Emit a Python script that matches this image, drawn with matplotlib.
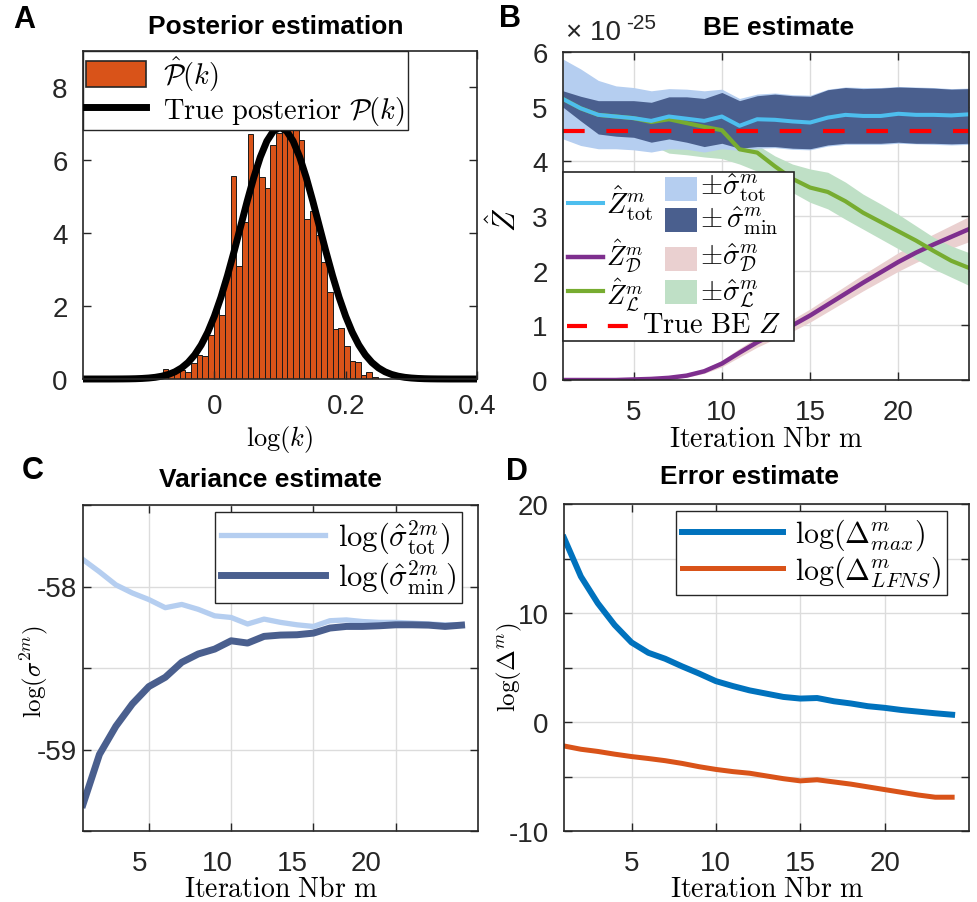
import numpy as np
import matplotlib
matplotlib.use("Agg")
import matplotlib.pyplot as plt
from matplotlib.lines import Line2D
from matplotlib.patches import Patch, Rectangle
from matplotlib.ticker import FuncFormatter

W, H = 977, 903

# ---- A: posterior histogram + true posterior ----
bin_start = -0.0786
bin_width = 0.00862
hist_heights = [0.28, 0.12, 0.18, 0.25, 0.18, 0.45, 0.67, 0.62, 1.2, 1.9,
                1.75, 2.9, 5.58, 3.1, 4.3, 6.72, 5.82, 5.55, 5.23, 6.42,
                6.74, 6.88, 7.02, 7.1, 6.56, 4.4, 4.6, 3.95, 3.2, 2.4,
                1.36, 1.4, 0.9, 0.5, 0.46, 0.1, 0.18, 0.05]
curve_x = [-0.20, -0.19, -0.18, -0.17, -0.16, -0.15, -0.14, -0.13, -0.12, -0.11,
           -0.10, -0.09, -0.08, -0.07, -0.06, -0.05, -0.04, -0.03, -0.02, -0.01,
           0.00, 0.01, 0.02, 0.03, 0.04, 0.05, 0.06, 0.07, 0.08, 0.09,
           0.10, 0.11, 0.12, 0.13, 0.14, 0.15, 0.16, 0.17, 0.18, 0.19,
           0.20, 0.21, 0.22, 0.23, 0.24, 0.25, 0.26, 0.27, 0.28, 0.29,
           0.30, 0.31, 0.32, 0.33, 0.34, 0.35, 0.36, 0.37, 0.38, 0.39, 0.40]
curve_y = [0.000, 0.000, 0.000, 0.000, 0.000, 0.001, 0.002, 0.004, 0.008, 0.015,
           0.027, 0.046, 0.077, 0.125, 0.197, 0.303, 0.453, 0.660, 0.934, 1.285,
           1.721, 2.240, 2.837, 3.493, 4.185, 4.876, 5.525, 6.089, 6.527, 6.805,
           6.900, 6.805, 6.527, 6.089, 5.525, 4.876, 4.185, 3.493, 2.837, 2.240,
           1.721, 1.285, 0.934, 0.660, 0.453, 0.303, 0.197, 0.125, 0.077, 0.046,
           0.027, 0.015, 0.008, 0.004, 0.002, 0.001, 0.000, 0.000, 0.000, 0.000, 0.000]

# ---- B: BE estimate (units of 1e-25) ----
iters = list(range(1, 25))
be_scale = 1e-25
true_z = 4.56
z_tot = [5.14, 4.97, 4.85, 4.82, 4.79, 4.74, 4.82, 4.78, 4.74, 4.82, 4.65, 4.77,
         4.76, 4.73, 4.71, 4.80, 4.85, 4.83, 4.83, 4.87, 4.85, 4.85, 4.84, 4.86]
tot_hi = [5.87, 5.69, 5.48, 5.38, 5.35, 5.29, 5.33, 5.32, 5.29, 5.32, 5.15, 5.23,
          5.25, 5.22, 5.21, 5.32, 5.36, 5.35, 5.35, 5.37, 5.36, 5.35, 5.33, 5.34]
tot_lo = [4.41, 4.29, 4.23, 4.23, 4.21, 4.17, 4.23, 4.22, 4.17, 4.23, 4.20, 4.24,
          4.25, 4.22, 4.21, 4.28, 4.31, 4.31, 4.31, 4.33, 4.32, 4.31, 4.30, 4.31]
min_hi = [5.29, 5.19, 5.11, 5.11, 5.11, 5.08, 5.18, 5.18, 5.15, 5.26, 5.11, 5.20,
          5.23, 5.20, 5.19, 5.31, 5.35, 5.33, 5.34, 5.36, 5.35, 5.34, 5.32, 5.33]
min_lo = [4.99, 4.74, 4.50, 4.46, 4.44, 4.35, 4.41, 4.35, 4.27, 4.33, 4.24, 4.27,
          4.27, 4.24, 4.23, 4.30, 4.33, 4.33, 4.33, 4.35, 4.33, 4.33, 4.32, 4.33]
z_D = [0.0, 0.0, 0.0, 0.0, 0.01, 0.02, 0.04, 0.08, 0.16, 0.30, 0.50, 0.69,
       0.85, 1.00, 1.18, 1.38, 1.58, 1.78, 1.97, 2.16, 2.33, 2.48, 2.62, 2.76]
sig_D = [0.0, 0.0, 0.0, 0.0, 0.01, 0.01, 0.02, 0.03, 0.04, 0.06, 0.08, 0.09,
         0.10, 0.11, 0.12, 0.13, 0.14, 0.15, 0.16, 0.17, 0.18, 0.19, 0.21, 0.23]
z_L = [5.14, 4.97, 4.85, 4.82, 4.79, 4.72, 4.77, 4.70, 4.63, 4.57, 4.22, 4.16,
       3.91, 3.68, 3.52, 3.44, 3.27, 3.06, 2.89, 2.72, 2.55, 2.36, 2.18, 2.05]
L_hi = [5.40, 5.25, 5.12, 5.08, 5.05, 4.98, 5.02, 4.95, 4.88, 4.80, 4.45, 4.30,
        4.10, 3.95, 3.86, 3.80, 3.62, 3.40, 3.22, 3.03, 2.82, 2.61, 2.45, 2.33]
L_lo = [4.75, 4.60, 4.48, 4.42, 4.35, 4.30, 4.15, 4.12, 4.08, 4.05, 3.95, 3.82,
        3.59, 3.43, 3.25, 3.13, 2.94, 2.76, 2.58, 2.40, 2.21, 2.03, 1.88, 1.73]

# ---- C: variance estimate ----
var_tot = [-57.835, -57.91, -57.99, -58.04, -58.08, -58.13, -58.11, -58.14,
           -58.18, -58.19, -58.23, -58.20, -58.22, -58.235, -58.245, -58.21,
           -58.205, -58.215, -58.22, -58.22, -58.225, -58.23, -58.235, -58.235]
var_min = [-59.337, -59.03, -58.857, -58.72, -58.614, -58.557, -58.465, -58.414,
           -58.384, -58.333, -58.347, -58.306, -58.298, -58.296, -58.286, -58.255,
           -58.245, -58.245, -58.241, -58.235, -58.235, -58.237, -58.245, -58.237]

# ---- D: error estimate ----
err_max = [16.9, 13.35, 10.9, 8.9, 7.3, 6.35, 5.8, 5.1, 4.45, 3.75, 3.3, 2.9,
           2.6, 2.3, 2.15, 2.2, 1.9, 1.7, 1.45, 1.3, 1.1, 0.95, 0.8, 0.67]
err_lfns = [-2.2, -2.5, -2.7, -2.95, -3.17, -3.35, -3.55, -3.8, -4.1, -4.35, -4.55, -4.7,
            -4.95, -5.2, -5.4, -5.3, -5.5, -5.7, -5.95, -6.2, -6.45, -6.7, -6.9, -6.9]

ORANGE = "#D95319"
BLUE = "#0072BD"
CYAN = "#4DBEEE"
PURPLE = "#7E2F8E"
GREEN = "#77AC30"
LIGHT_BLUE = "#B5CEF0"
DARK_BLUE = "#4A5F8E"
PINK = "#EAD0D0"
PALE_GREEN = "#BFE0C6"
INK = "#262626"

plt.rcParams["font.family"] = ["Liberation Sans", "DejaVu Sans"]
plt.rcParams["mathtext.fontset"] = "cm"


def rect(l, t, r, b):
    return [l / W, 1 - b / H, (r - l) / W, (b - t) / H]


def fxy(x, y):
    return x / W, 1 - y / H


def style(ax, grid=True, pad=10):
    for s in ax.spines.values():
        s.set_color(INK)
        s.set_linewidth(1.2)
    ax.tick_params(which="major", direction="in", length=6, width=1, top=True, right=True,
                   labelsize=20, colors=INK, pad=pad)
    if grid:
        ax.grid(True, color="#dcdcdc", lw=1)
        ax.set_axisbelow(True)


fig = plt.figure(figsize=(W / 100, H / 100), dpi=100)

# panel A
axA = fig.add_axes(rect(83, 52, 477, 380))
edges = bin_start + bin_width * np.arange(len(hist_heights))
axA.bar(edges, hist_heights, width=bin_width, align="edge", color=ORANGE,
        edgecolor="#1a1a1a", lw=0.7)
axA.plot(curve_x, curve_y, color="black", lw=5, clip_on=False, solid_capstyle="butt")
axA.set_xlim(-0.2, 0.4)
axA.set_ylim(0, 9)
axA.set_xticks([0, 0.2, 0.4], ["0", "0.2", "0.4"])
axA.set_yticks([0, 2, 4, 6, 8])
style(axA, grid=False)
axA.tick_params(axis="y", pad=11)
axA.set_xlabel(r"$\log(k)$", fontsize=19)
axA.xaxis.set_label_coords(0.5, -0.135)
axA.legend([Patch(fc=ORANGE, ec=INK, lw=1.2), Line2D([], [], color="black", lw=5)],
           [r"$\hat{\mathcal{P}}(k)$", r"$\mathrm{True\ posterior}\ \mathcal{P}(k)$"],
           loc="upper left", bbox_to_anchor=(0, 1), borderaxespad=0, fontsize=20.5,
           handlelength=2.1, handleheight=1.0, fancybox=False, framealpha=1,
           edgecolor=INK, borderpad=0.1, labelspacing=0.05, handletextpad=0.6)

# panel B
axB = fig.add_axes(rect(563, 53, 969, 381))
s = be_scale
zD = np.array(z_D)
sD = np.array(sig_D)
axB.fill_between(iters, (zD - sD) * s, (zD + sD) * s, color=PINK, lw=0)
axB.fill_between(iters, np.array(L_lo) * s, np.array(L_hi) * s, color=PALE_GREEN, lw=0)
axB.fill_between(iters, np.array(tot_lo) * s, np.array(tot_hi) * s, color=LIGHT_BLUE, lw=0)
axB.fill_between(iters, np.array(min_lo) * s, np.array(min_hi) * s, color=DARK_BLUE, lw=0)
axB.plot(iters, zD * s, color=PURPLE, lw=3.2)
axB.plot(iters, np.array(z_L) * s, color=GREEN, lw=3)
axB.plot(iters, np.array(z_tot) * s, color=CYAN, lw=2.9)
axB.axhline(true_z * s, color="red", lw=3, ls=(0, (5.2, 5.2)))
axB.set_xlim(1, 24)
axB.set_ylim(0, 6 * s)
axB.set_xticks([5, 10, 15, 20])
axB.set_yticks(np.arange(0, 7) * s)
axB.yaxis.set_major_formatter(FuncFormatter(lambda v, _: f"{v / s:.0f}"))
style(axB, pad=11)
axB.tick_params(axis="x", pad=14)
axB.set_xlabel(r"$\mathrm{Iteration\ Nbr\ m}$", fontsize=20)
axB.xaxis.set_label_coords(0.5, -0.14)
axB.set_ylabel(r"$\hat{Z}$", fontsize=22)
axB.yaxis.set_label_coords(-0.099, 0.49)
fig.text(*fxy(566, 46), "\u00d7 10", fontsize=20, color=INK, ha="left", va="bottom")
fig.text(*fxy(626, 33), "-25", fontsize=15, color=INK, ha="left", va="bottom")

# hand-built legend for B (two columns with a spanning last row)
fig.add_artist(Rectangle(fxy(563, 342), (794 - 563) / W, (342 - 173) / H,
                         transform=fig.transFigure, fc="white", ec=INK, lw=1.2))


def leg_line(y, color, lw, x0=568, x1=603, ls="-"):
    fig.add_artist(Line2D([x0 / W, x1 / W], [1 - y / H, 1 - y / H],
                          transform=fig.transFigure, color=color, lw=lw, ls=ls))


def leg_patch(yc, color):
    fig.add_artist(Rectangle(fxy(665, yc + 12), 32 / W, 24 / H,
                             transform=fig.transFigure, fc=color, lw=0))


def leg_text(x, y, s_, size=20.5):
    fig.text(*fxy(x, y), s_, fontsize=size, ha="left", va="center")


leg_line(204, CYAN, 2.9)
leg_text(606, 203, r"$\hat{Z}^m_{\mathrm{tot}}$")
leg_patch(190, LIGHT_BLUE)
leg_text(700, 188, r"$\pm\hat{\sigma}^m_{\mathrm{tot}}$")
leg_patch(221, DARK_BLUE)
leg_text(700, 221, r"$\pm\,\hat{\sigma}^m_{\mathrm{min}}$")
leg_line(258, PURPLE, 3.2)
leg_text(606, 256, r"$\hat{Z}^m_{\mathcal{D}}$", 19)
leg_patch(260, PINK)
leg_text(700, 258, r"$\pm\hat{\sigma}^m_{\mathcal{D}}$")
leg_line(292, GREEN, 3)
leg_text(606, 295, r"$\hat{Z}^m_{\mathcal{L}}$", 19)
leg_patch(293, PALE_GREEN)
leg_text(700, 293, r"$\pm\hat{\sigma}^m_{\mathcal{L}}$")
leg_line(327, "red", 3, x0=567, x1=628, ls=(0, (4.8, 5.0)))
leg_text(642, 326, r"$\mathrm{True\ BE}\ Z$")

# panel C
axC = fig.add_axes(rect(83, 506, 478, 832))
axC.plot(iters, var_tot, color=LIGHT_BLUE, lw=3.8, label=r"$\log(\hat{\sigma}^{2m}_{\mathrm{tot}})$")
axC.plot(iters, var_min, color=DARK_BLUE, lw=5, label=r"$\log(\hat{\sigma}^{2m}_{\mathrm{min}})$")
axC.set_xlim(1, 25)
axC.set_ylim(-59.5, -57.5)
axC.set_xticks([5, 10, 15, 20], ["", "", "", ""])
axC.set_xticks([4.45, 9.15, 13.72, 18.18], ["5", "10", "15", "20"], minor=True)
axC.set_yticks([-59.5, -59, -58.5, -58, -57.5], ["", "-59", "", "-58", ""])
style(axC, pad=4)
axC.tick_params(axis="x", which="minor", length=0, labelsize=20, colors=INK, pad=14)
axC.set_xlabel(r"$\mathrm{Iteration\ Nbr\ m}$", fontsize=20)
axC.xaxis.set_label_coords(0.5, -0.137)
axC.set_ylabel(r"$\log(\sigma^{2m})$", fontsize=18)
axC.yaxis.set_label_coords(-0.084, 0.49)
axC.legend(loc="upper right", bbox_to_anchor=(0.959, 0.979), borderaxespad=0,
           fontsize=22, handlelength=3.4, fancybox=False, framealpha=1, edgecolor=INK,
           borderpad=0.2, labelspacing=0.05, handletextpad=0.4)

# panel D
axD = fig.add_axes(rect(564, 505, 969, 832))
axD.plot(iters, err_max, color=BLUE, lw=4.3, label=r"$\log(\Delta^m_{max})$")
axD.plot(iters, err_lfns, color=ORANGE, lw=3.6, label=r"$\log(\Delta^m_{LFNS})$")
axD.set_xlim(1, 25)
axD.set_ylim(-10, 20)
axD.set_xticks([5, 10, 15, 20])
axD.set_yticks([-10, -5, 0, 5, 10, 15, 20], ["-10", "", "0", "", "10", "", "20"])
style(axD, pad=11)
axD.tick_params(axis="x", pad=14)
axD.set_xlabel(r"$\mathrm{Iteration\ Nbr\ m}$", fontsize=20)
axD.xaxis.set_label_coords(0.5, -0.137)
axD.set_ylabel(r"$\log(\Delta^m)$", fontsize=18)
axD.yaxis.set_label_coords(-0.1, 0.505)
axD.legend(loc="upper right", bbox_to_anchor=(0.946, 0.979), borderaxespad=0,
           fontsize=21.5, handlelength=3.4, fancybox=False, framealpha=1, edgecolor=INK,
           borderpad=0.2, labelspacing=0.05, handletextpad=0.4)

# titles and panel letters
for (x, y), title in [((276, 27), "Posterior estimation"), ((779, 28), "BE estimate"),
                      ((270, 480), "Variance estimate"), ((749, 477), "Error estimate")]:
    fig.text(*fxy(x, y), title, fontsize=19, fontweight="bold", ha="center", va="center")
for (x, y), letter in [((24, 20), "A"), ((510, 19), "B"), ((33, 471), "C"), ((517, 472), "D")]:
    fig.text(*fxy(x, y), letter, fontsize=22, fontweight="bold", ha="center", va="center")

fig.savefig("out.png", dpi=100)
